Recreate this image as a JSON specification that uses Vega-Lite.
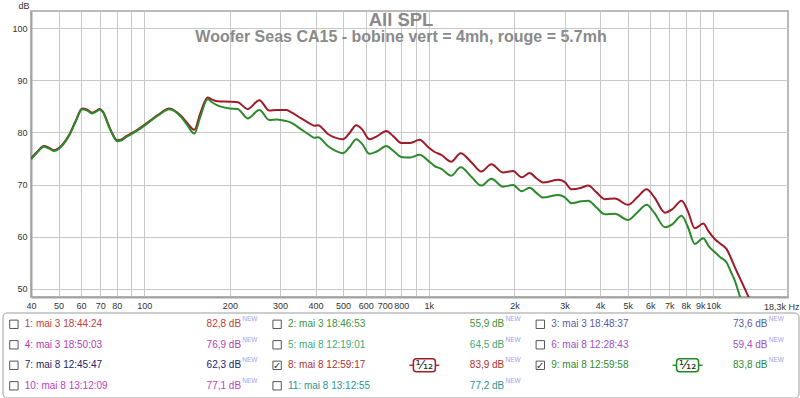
{
  "$schema": "https://vega.github.io/schema/vega-lite/v6.json",
  "background": "white",
  "padding": {"left": 2, "top": 0, "right": 2, "bottom": 1},
  "config": {"font": "Liberation Sans", "view": {"stroke": null}},
  "datasets": {
    "courbes": [
      {"freq": 40, "rouge": 75.0, "vert": 74.85},
      {"freq": 41.9, "rouge": 76.2, "vert": 76.05},
      {"freq": 44.4, "rouge": 77.4, "vert": 77.25},
      {"freq": 46.2, "rouge": 77.1, "vert": 76.95},
      {"freq": 48.1, "rouge": 76.6, "vert": 76.45},
      {"freq": 50.1, "rouge": 77.0, "vert": 76.85},
      {"freq": 52.2, "rouge": 78.0, "vert": 77.85},
      {"freq": 54.3, "rouge": 79.4, "vert": 79.25},
      {"freq": 57.4, "rouge": 82.2, "vert": 82.05},
      {"freq": 60.5, "rouge": 84.6, "vert": 84.45},
      {"freq": 62.8, "rouge": 84.4, "vert": 84.25},
      {"freq": 65.6, "rouge": 83.8, "vert": 83.65},
      {"freq": 67.6, "rouge": 84.1, "vert": 83.95},
      {"freq": 69.7, "rouge": 84.5, "vert": 84.35},
      {"freq": 71.6, "rouge": 84.0, "vert": 83.85},
      {"freq": 75.1, "rouge": 81.3, "vert": 81.15},
      {"freq": 77.6, "rouge": 79.6, "vert": 79.45},
      {"freq": 80.3, "rouge": 78.5, "vert": 78.35},
      {"freq": 82.8, "rouge": 78.6, "vert": 78.45},
      {"freq": 86, "rouge": 79.2, "vert": 79.05},
      {"freq": 93.3, "rouge": 80.3, "vert": 80.15},
      {"freq": 101, "rouge": 81.6, "vert": 81.45},
      {"freq": 105.6, "rouge": 82.4, "vert": 82.25},
      {"freq": 112.6, "rouge": 83.5, "vert": 83.35},
      {"freq": 122.4, "rouge": 84.6, "vert": 84.45},
      {"freq": 134.6, "rouge": 83.2, "vert": 83.0},
      {"freq": 141.3, "rouge": 81.9, "vert": 81.5},
      {"freq": 150, "rouge": 80.5, "vert": 79.8},
      {"freq": 157, "rouge": 83.5, "vert": 82.8},
      {"freq": 167, "rouge": 86.7, "vert": 86.4},
      {"freq": 173, "rouge": 86.3, "vert": 85.8},
      {"freq": 181, "rouge": 86.0, "vert": 85.2},
      {"freq": 200, "rouge": 85.9, "vert": 84.6},
      {"freq": 213, "rouge": 85.8, "vert": 84.5},
      {"freq": 231, "rouge": 84.5, "vert": 82.7},
      {"freq": 254, "rouge": 86.2, "vert": 84.3},
      {"freq": 275, "rouge": 84.2, "vert": 82.4},
      {"freq": 293, "rouge": 84.3, "vert": 82.5},
      {"freq": 315, "rouge": 84.3, "vert": 82.2},
      {"freq": 328, "rouge": 83.9, "vert": 81.9},
      {"freq": 356, "rouge": 82.7, "vert": 80.6},
      {"freq": 377, "rouge": 81.9, "vert": 79.7},
      {"freq": 396, "rouge": 81.3, "vert": 79.0},
      {"freq": 408, "rouge": 81.4, "vert": 79.1},
      {"freq": 442, "rouge": 79.7, "vert": 77.4},
      {"freq": 469, "rouge": 79.0, "vert": 76.5},
      {"freq": 499, "rouge": 78.7, "vert": 76.0},
      {"freq": 525, "rouge": 79.8, "vert": 77.1},
      {"freq": 556, "rouge": 81.4, "vert": 78.7},
      {"freq": 583, "rouge": 80.6, "vert": 77.8},
      {"freq": 619, "rouge": 78.7, "vert": 75.9},
      {"freq": 659, "rouge": 79.3, "vert": 76.4},
      {"freq": 709, "rouge": 80.3, "vert": 77.4},
      {"freq": 750, "rouge": 79.3, "vert": 76.5},
      {"freq": 800, "rouge": 78.0, "vert": 75.3},
      {"freq": 861, "rouge": 78.0, "vert": 75.2},
      {"freq": 928, "rouge": 78.6, "vert": 75.7},
      {"freq": 994, "rouge": 77.2, "vert": 74.6},
      {"freq": 1045, "rouge": 76.3, "vert": 73.6},
      {"freq": 1107, "rouge": 75.7, "vert": 73.0},
      {"freq": 1200, "rouge": 74.4, "vert": 71.7},
      {"freq": 1294, "rouge": 76.0, "vert": 73.3},
      {"freq": 1411, "rouge": 74.3, "vert": 71.5},
      {"freq": 1530, "rouge": 72.5, "vert": 69.8},
      {"freq": 1660, "rouge": 73.9, "vert": 71.1},
      {"freq": 1824, "rouge": 72.3, "vert": 69.6},
      {"freq": 1978, "rouge": 72.6, "vert": 69.9},
      {"freq": 2120, "rouge": 71.4, "vert": 68.7},
      {"freq": 2262, "rouge": 72.2, "vert": 69.4},
      {"freq": 2389, "rouge": 71.2, "vert": 68.4},
      {"freq": 2522, "rouge": 70.4, "vert": 67.5},
      {"freq": 2850, "rouge": 70.9, "vert": 68.0},
      {"freq": 3000, "rouge": 70.5, "vert": 67.6},
      {"freq": 3172, "rouge": 69.1, "vert": 66.4},
      {"freq": 3440, "rouge": 69.4, "vert": 66.8},
      {"freq": 3631, "rouge": 69.8, "vert": 66.9},
      {"freq": 3885, "rouge": 68.5, "vert": 65.6},
      {"freq": 4155, "rouge": 67.2, "vert": 64.3},
      {"freq": 4506, "rouge": 67.3, "vert": 64.4},
      {"freq": 5020, "rouge": 66.1, "vert": 63.2},
      {"freq": 5415, "rouge": 67.6, "vert": 64.7},
      {"freq": 5826, "rouge": 69.1, "vert": 66.1},
      {"freq": 6217, "rouge": 67.5, "vert": 64.5},
      {"freq": 6760, "rouge": 64.6, "vert": 61.8},
      {"freq": 7193, "rouge": 65.3, "vert": 62.4},
      {"freq": 7735, "rouge": 66.9, "vert": 64.0},
      {"freq": 8122, "rouge": 65.0, "vert": 62.0},
      {"freq": 8610, "rouge": 61.6, "vert": 58.6},
      {"freq": 9220, "rouge": 62.5, "vert": 59.7},
      {"freq": 9627, "rouge": 61.0, "vert": 58.2},
      {"freq": 10130, "rouge": 59.5, "vert": 57.0},
      {"freq": 10610, "rouge": 58.6, "vert": 56.0},
      {"freq": 11140, "rouge": 57.6, "vert": 55.05},
      {"freq": 11510, "rouge": 56.0, "vert": 53.3},
      {"freq": 11910, "rouge": 54.1, "vert": 51.5},
      {"freq": 12410, "rouge": 52.0, "vert": 48.5},
      {"freq": 12780, "rouge": 50.5, "vert": 46.8},
      {"freq": 13280, "rouge": 48.5},
      {"freq": 13640, "rouge": 47.1}
    ],
    "mesures": [
      {"id": 1, "nom": "1: mai 3 18:44:24", "niveau": 82.8},
      {"id": 2, "nom": "2: mai 3 18:46:53", "niveau": 55.9},
      {"id": 3, "nom": "3: mai 3 18:48:37", "niveau": 73.6},
      {"id": 4, "nom": "4: mai 3 18:50:03", "niveau": 76.9},
      {"id": 5, "nom": "5: mai 8 12:19:01", "niveau": 64.5},
      {"id": 6, "nom": "6: mai 8 12:28:43", "niveau": 59.4},
      {"id": 7, "nom": "7: mai 8 12:45:47", "niveau": 62.3},
      {"id": 8, "nom": "8: mai 8 12:59:17", "niveau": 83.9, "affiche": true, "lissage": "1/12"},
      {"id": 9, "nom": "9: mai 8 12:59:58", "niveau": 83.8, "affiche": true, "lissage": "1/12"},
      {"id": 10, "nom": "10: mai 8 13:12:09", "niveau": 77.1},
      {"id": 11, "nom": "11: mai 8 13:12:55", "niveau": 77.2}
    ]
  },
  "spacing": 16,
  "bounds": "flush",
  "resolve": {"scale": {"x": "independent", "y": "independent", "color": "independent"}},
  "vconcat": [
    {
      "width": 757,
      "height": 286,
      "view": {"stroke": "#bababa", "strokeWidth": 2},
      "title": {
        "text": "All SPL",
        "subtitle": "Woofer Seas CA15 - bobine vert = 4mh, rouge = 5.7mh",
        "anchor": "middle",
        "frame": "group",
        "offset": -44,
        "dx": -8.5,
        "font": "Liberation Sans",
        "fontSize": 18.5,
        "fontWeight": "bold",
        "color": "#8a8a8a",
        "subtitleFont": "Liberation Sans",
        "subtitleFontSize": 16,
        "subtitleFontWeight": "bold",
        "subtitleColor": "#8a8a8a",
        "subtitlePadding": 0
      },
      "data": {"name": "courbes"},
      "transform": [{"fold": ["rouge", "vert"], "as": ["bobine", "spl"]}],
      "mark": {"type": "line", "interpolate": "monotone", "strokeWidth": 2, "clip": true},
      "encoding": {
        "x": {
          "field": "freq",
          "type": "quantitative",
          "scale": {"type": "log", "domain": [40, 18300], "nice": false},
          "axis": {
            "values": [40, 50, 60, 70, 80, 90, 100, 200, 300, 400, 500, 600, 700, 800, 900, 1000, 2000, 3000, 4000, 5000, 6000, 7000, 8000, 9000, 10000],
            "labelExpr": "datum.value == 90 || datum.value == 900 ? '' : (datum.value >= 1000 ? (datum.value / 1000) + 'k' : '' + datum.value)",
            "grid": true,
            "gridColor": "#c8c8c8",
            "gridWidth": 1,
            "ticks": false,
            "domainColor": "#a3a3a3",
            "domainWidth": 2,
            "labelFontSize": 9,
            "labelColor": "#333333",
            "labelPadding": 4,
            "labelFlush": false,
            "labelOverlap": false,
            "labelBound": false,
            "title": "18,3k Hz",
            "titleX": 768,
            "titleY": 12,
            "titleAlign": "right",
            "titleBaseline": "alphabetic",
            "titleFontWeight": "normal",
            "titleFontSize": 9,
            "titleColor": "#333333"
          }
        },
        "y": {
          "field": "spl",
          "type": "quantitative",
          "scale": {"domain": [48.41, 103.32], "nice": false, "zero": false},
          "axis": {
            "values": [50, 60, 70, 80, 90, 100],
            "grid": true,
            "gridColor": "#c8c8c8",
            "gridWidth": 1,
            "ticks": false,
            "domainColor": "#a3a3a3",
            "domainWidth": 2,
            "labelFontSize": 9,
            "labelColor": "#333333",
            "labelPadding": 4,
            "labelFlush": false,
            "title": "dB",
            "titleAngle": 0,
            "titleAlign": "right",
            "titleX": -2,
            "titleY": -3,
            "titleBaseline": "alphabetic",
            "titleFontWeight": "normal",
            "titleFontSize": 9,
            "titleColor": "#333333"
          }
        },
        "color": {
          "field": "bobine",
          "type": "nominal",
          "scale": {"domain": ["rouge", "vert"], "range": ["#9e1b28", "#2b8a2b"]},
          "legend": null
        }
      }
    },
    {
      "width": 757,
      "height": 85,
      "view": {"stroke": null},
      "layer": [
        {
          "data": {"values": [{}]},
          "mark": {"type": "rect", "fill": "white", "stroke": "#9c9c9c", "strokeWidth": 1, "cornerRadius": 4},
          "encoding": {
            "x": {"datum": 0, "type": "quantitative", "scale": {"domain": [0.10638, 2.98252]}, "axis": null},
            "x2": {"datum": 3.0243},
            "y": {"datum": -0.5512, "type": "quantitative", "scale": {"domain": [-0.5512, 3.5951], "reverse": true}, "axis": null},
            "y2": {"datum": 3.5951}
          }
        },
        {
          "data": {"name": "mesures"},
          "transform": [
            {"calculate": "(datum.id - 1) % 3", "as": "col"},
            {"calculate": "floor((datum.id - 1) / 3)", "as": "row"},
            {"calculate": "replace(format(datum.niveau, '.1f'), '.', ',') + ' dB'", "as": "niveau_txt"}
          ],
          "encoding": {
            "x": {"field": "col", "type": "quantitative", "scale": {"domain": [0.10638, 2.98252]}, "axis": null},
            "y": {"field": "row", "type": "quantitative", "scale": {"domain": [-0.5512, 3.5951], "reverse": true}, "axis": null},
            "color": {
              "field": "nom",
              "type": "nominal",
              "scale": {
                "domain": ["1: mai 3 18:44:24", "2: mai 3 18:46:53", "3: mai 3 18:48:37", "4: mai 3 18:50:03", "5: mai 8 12:19:01", "6: mai 8 12:28:43", "7: mai 8 12:45:47", "8: mai 8 12:59:17", "9: mai 8 12:59:58", "10: mai 8 13:12:09", "11: mai 8 13:12:55"],
                "range": ["#c43c3c", "#3c963c", "#5a5aa8", "#b040b0", "#3caa78", "#a050c8", "#23236e", "#b03030", "#2e8b2e", "#c040c0", "#2e9494"]
              },
              "legend": null
            }
          },
          "layer": [
            {
              "mark": {"type": "point", "shape": "square", "size": 70, "filled": true, "fill": "white", "stroke": "#555555", "strokeWidth": 1, "opacity": 1, "xOffset": 10.9},
              "encoding": {"color": {"value": "#555555"}}
            },
            {
              "transform": [{"filter": "datum.affiche === true"}],
              "mark": {"type": "text", "text": "✓", "font": "DejaVu Sans", "fontSize": 10, "align": "center", "baseline": "middle", "dx": 10.9, "dy": 0.5},
              "encoding": {"color": {"value": "#333333"}}
            },
            {
              "mark": {"type": "text", "align": "left", "baseline": "middle", "fontSize": 10, "dx": 21.8},
              "encoding": {"text": {"field": "nom"}}
            },
            {
              "mark": {"type": "text", "align": "right", "baseline": "middle", "fontSize": 10, "dx": 238.1},
              "encoding": {"text": {"field": "niveau_txt"}}
            },
            {
              "mark": {"type": "text", "text": "NEW", "align": "left", "baseline": "middle", "fontSize": 6.5, "dx": 239.3, "dy": -5},
              "encoding": {"color": {"value": "#a0a0ee"}}
            },
            {
              "transform": [{"filter": "datum.lissage != null"}],
              "mark": {"type": "rule", "strokeWidth": 1.5, "xOffset": 143.2, "x2Offset": 173.2},
              "encoding": {"x2": {"field": "col"}}
            },
            {
              "transform": [{"filter": "datum.lissage != null"}],
              "mark": {"type": "rect", "fill": "white", "strokeWidth": 1.5, "cornerRadius": 3, "xOffset": 147.2, "x2Offset": 169.2, "yOffset": -6.5, "y2Offset": 6.5},
              "encoding": {"x2": {"field": "col"}, "y2": {"field": "row"}, "stroke": {"field": "nom", "type": "nominal", "scale": {"domain": ["8: mai 8 12:59:17", "9: mai 8 12:59:58"], "range": ["#a01c28", "#1f8a1f"]}, "legend": null}, "color": {"value": "white"}}
            },
            {
              "transform": [{"filter": "datum.lissage != null"}],
              "mark": {"type": "text", "text": "¹⁄₁₂", "font": "DejaVu Sans", "fontSize": 13, "align": "center", "baseline": "middle", "dx": 158.2},
              "encoding": {"color": {"value": "#222222"}}
            }
          ]
        }
      ]
    }
  ]
}
